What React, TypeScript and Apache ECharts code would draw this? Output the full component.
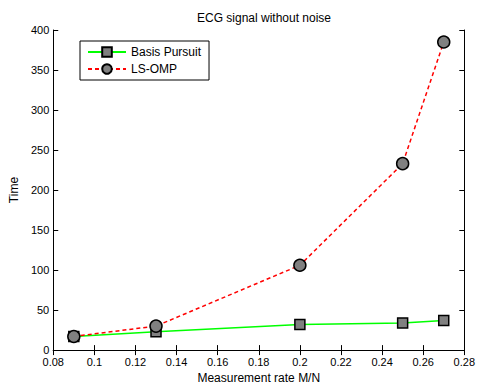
import React, { useEffect, useRef } from "react";
import * as echarts from "echarts";

const rates = [0.09, 0.13, 0.2, 0.25, 0.27];
const basisPursuit = [17, 23, 32, 34, 37];
const lsOmp = [17, 30, 106, 233, 385];
const xTicks = [0.08, 0.1, 0.12, 0.14, 0.16, 0.18, 0.2, 0.22, 0.24, 0.26, 0.28];
const yTicks = [0, 50, 100, 150, 200, 250, 300, 350, 400];

const FONT = "Liberation Sans, Arial, sans-serif";

export default function App() {
  const ref = useRef<HTMLDivElement>(null);
  useEffect(() => {
    if (!ref.current) return;
    const chart = echarts.init(ref.current, undefined, { renderer: "svg" });
    const tick = { show: true, inside: true, length: 5, lineStyle: { color: "#000" } };
    const axLine = { show: true, lineStyle: { color: "#000", width: 1 } };
    chart.setOption({
      animation: false,
      backgroundColor: "#fff",
      textStyle: { fontFamily: FONT },
      title: {
        text: "ECG signal without noise",
        left: 259,
        top: 7,
        textAlign: "center",
        textStyle: { fontSize: 12, fontWeight: "normal", color: "#000", fontFamily: FONT },
      },
      grid: { left: 53, right: 11, top: 30, bottom: 35, containLabel: false },
      legend: {
        left: 80,
        top: 41,
        orient: "vertical",
        itemWidth: 38,
        itemHeight: 12,
        itemGap: 5,
        padding: [5, 8, 5, 7],
        borderColor: "#000",
        borderWidth: 1,
        backgroundColor: "#fff",
        textStyle: { fontSize: 12, color: "#000", fontFamily: FONT },
        data: ["Basis Pursuit", "LS-OMP"],
      },
      xAxis: [
        {
          type: "value",
          min: 0.08,
          max: 0.28,
          interval: 0.02,
          axisLine: axLine,
          axisTick: tick,
          splitLine: { show: false },
          axisLabel: {
            color: "#000",
            fontSize: 11,
            margin: 6,
            fontFamily: FONT,
            formatter: (v: number) => {
              const r = Math.round(v * 100) / 100;
              return xTicks.includes(r) ? String(r) : "";
            },
          },
          name: "Measurement rate M/N",
          nameLocation: "middle",
          nameGap: 21,
          nameTextStyle: { color: "#000", fontSize: 12, fontFamily: FONT },
        },
        {
          type: "value",
          position: "top",
          min: 0.08,
          max: 0.28,
          interval: 0.02,
          axisLine: axLine,
          axisTick: tick,
          axisLabel: { show: false },
          splitLine: { show: false },
        },
      ],
      yAxis: [
        {
          type: "value",
          min: 0,
          max: 400,
          interval: 50,
          axisLine: axLine,
          axisTick: tick,
          splitLine: { show: false },
          axisLabel: {
            color: "#000",
            fontSize: 11,
            margin: 4,
            fontFamily: FONT,
            formatter: (v: number) => (yTicks.includes(v) ? String(v) : ""),
          },
          name: "Time",
          nameLocation: "middle",
          nameGap: 33,
          nameTextStyle: { color: "#000", fontSize: 12, fontFamily: FONT },
        },
        {
          type: "value",
          position: "right",
          min: 0,
          max: 400,
          interval: 50,
          axisLine: axLine,
          axisTick: tick,
          axisLabel: { show: false },
          splitLine: { show: false },
        },
      ],
      series: [
        {
          name: "Basis Pursuit",
          type: "line",
          data: rates.map((r, i) => [r, basisPursuit[i]]),
          symbol: "rect",
          symbolSize: 10,
          lineStyle: { color: "#00ff00", width: 1.5 },
          itemStyle: { color: "#808080", borderColor: "#000", borderWidth: 1.5 },
          color: "#00ff00",
        },
        {
          name: "LS-OMP",
          type: "line",
          data: rates.map((r, i) => [r, lsOmp[i]]),
          symbol: "circle",
          symbolSize: 12,
          lineStyle: { color: "#ff0000", width: 1.5, type: [4, 3] },
          itemStyle: { color: "#808080", borderColor: "#000", borderWidth: 1.5 },
          color: "#ff0000",
        },
      ],
    });
    return () => chart.dispose();
  }, []);
  return (
    <div
      ref={ref}
      style={{ position: "fixed", left: 0, top: 0, width: 478, height: 389, background: "#fff" }}
    />
  );
}
